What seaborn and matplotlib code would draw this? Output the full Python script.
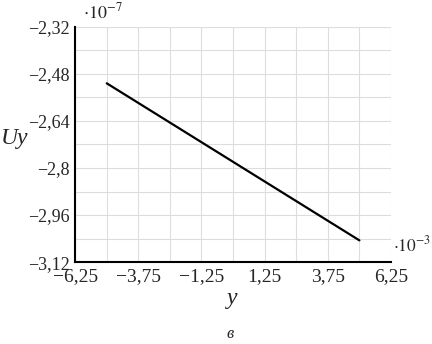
import numpy as np
import pandas as pd
import seaborn as sns
import matplotlib.pyplot as plt
from matplotlib.ticker import MultipleLocator, FuncFormatter

# values (x in 1e-3, Uy in 1e-7)
y_coord = [-5.0, 0.0, 5.0]
u_y = [-2.512, -2.779, -3.046]

x_ticks = [-6.25, -3.75, -1.25, 1.25, 3.75, 6.25]
u_ticks = [-3.12, -2.96, -2.8, -2.64, -2.48, -2.32]

df = pd.DataFrame({"y": y_coord, "Uy": u_y})

sns.set_style("white")
plt.rcParams['font.family'] = ['Liberation Serif', 'DejaVu Serif']
plt.rcParams['mathtext.fontset'] = 'stix'

fig = plt.figure(figsize=(4.32, 3.44), dpi=100)
ax = fig.add_axes([0.174, 0.238, 0.731, 0.684])

sns.lineplot(data=df, x="y", y="Uy", ax=ax, color="black", linewidth=1.6)

ax.set_xlim(-6.25, 6.25)
ax.set_ylim(-3.12, -2.32)
ax.set_xticks(x_ticks)
ax.set_yticks(u_ticks)
ax.xaxis.set_minor_locator(MultipleLocator(1.25))
ax.yaxis.set_minor_locator(MultipleLocator(0.08))


def comma(v, pos):
    s = ("%.2f" % v).rstrip("0").rstrip(".")
    return s.replace(".", ",").replace("-", "\u2212")


ax.xaxis.set_major_formatter(FuncFormatter(comma))
ax.yaxis.set_major_formatter(FuncFormatter(comma))
ax.tick_params(axis="both", which="both", length=0)
ax.tick_params(axis="x", pad=4, labelsize=14)
ax.tick_params(axis="y", pad=4, labelsize=13)
for lab in ax.get_yticklabels():
    lab.set_va("center_baseline")

ax.grid(True, which="both", color="#dddddd", linewidth=0.8)
ax.set_axisbelow(True)
for side in ["top", "right"]:
    ax.spines[side].set_visible(False)
for side in ["left", "bottom"]:
    ax.spines[side].set_color("black")
    ax.spines[side].set_linewidth(1.5)

ax.set_xlabel("")
ax.set_ylabel("")
fig.text(0.034, 0.598, "Uy", fontsize=17, fontstyle="italic", ha="center", va="center")
fig.text(0.537, 0.132, "y", fontsize=17, fontstyle="italic", ha="center", va="center")
fig.text(0.533, 0.03, "в", fontsize=12, fontstyle="italic", ha="center", va="center")
fig.text(0.193, 0.935, r"$\cdot10^{-7}$", fontsize=13, ha="left", va="bottom")
fig.text(0.91, 0.258, r"$\cdot10^{-3}$", fontsize=12.5, ha="left", va="bottom")

fig.savefig("out.png", dpi=100)
